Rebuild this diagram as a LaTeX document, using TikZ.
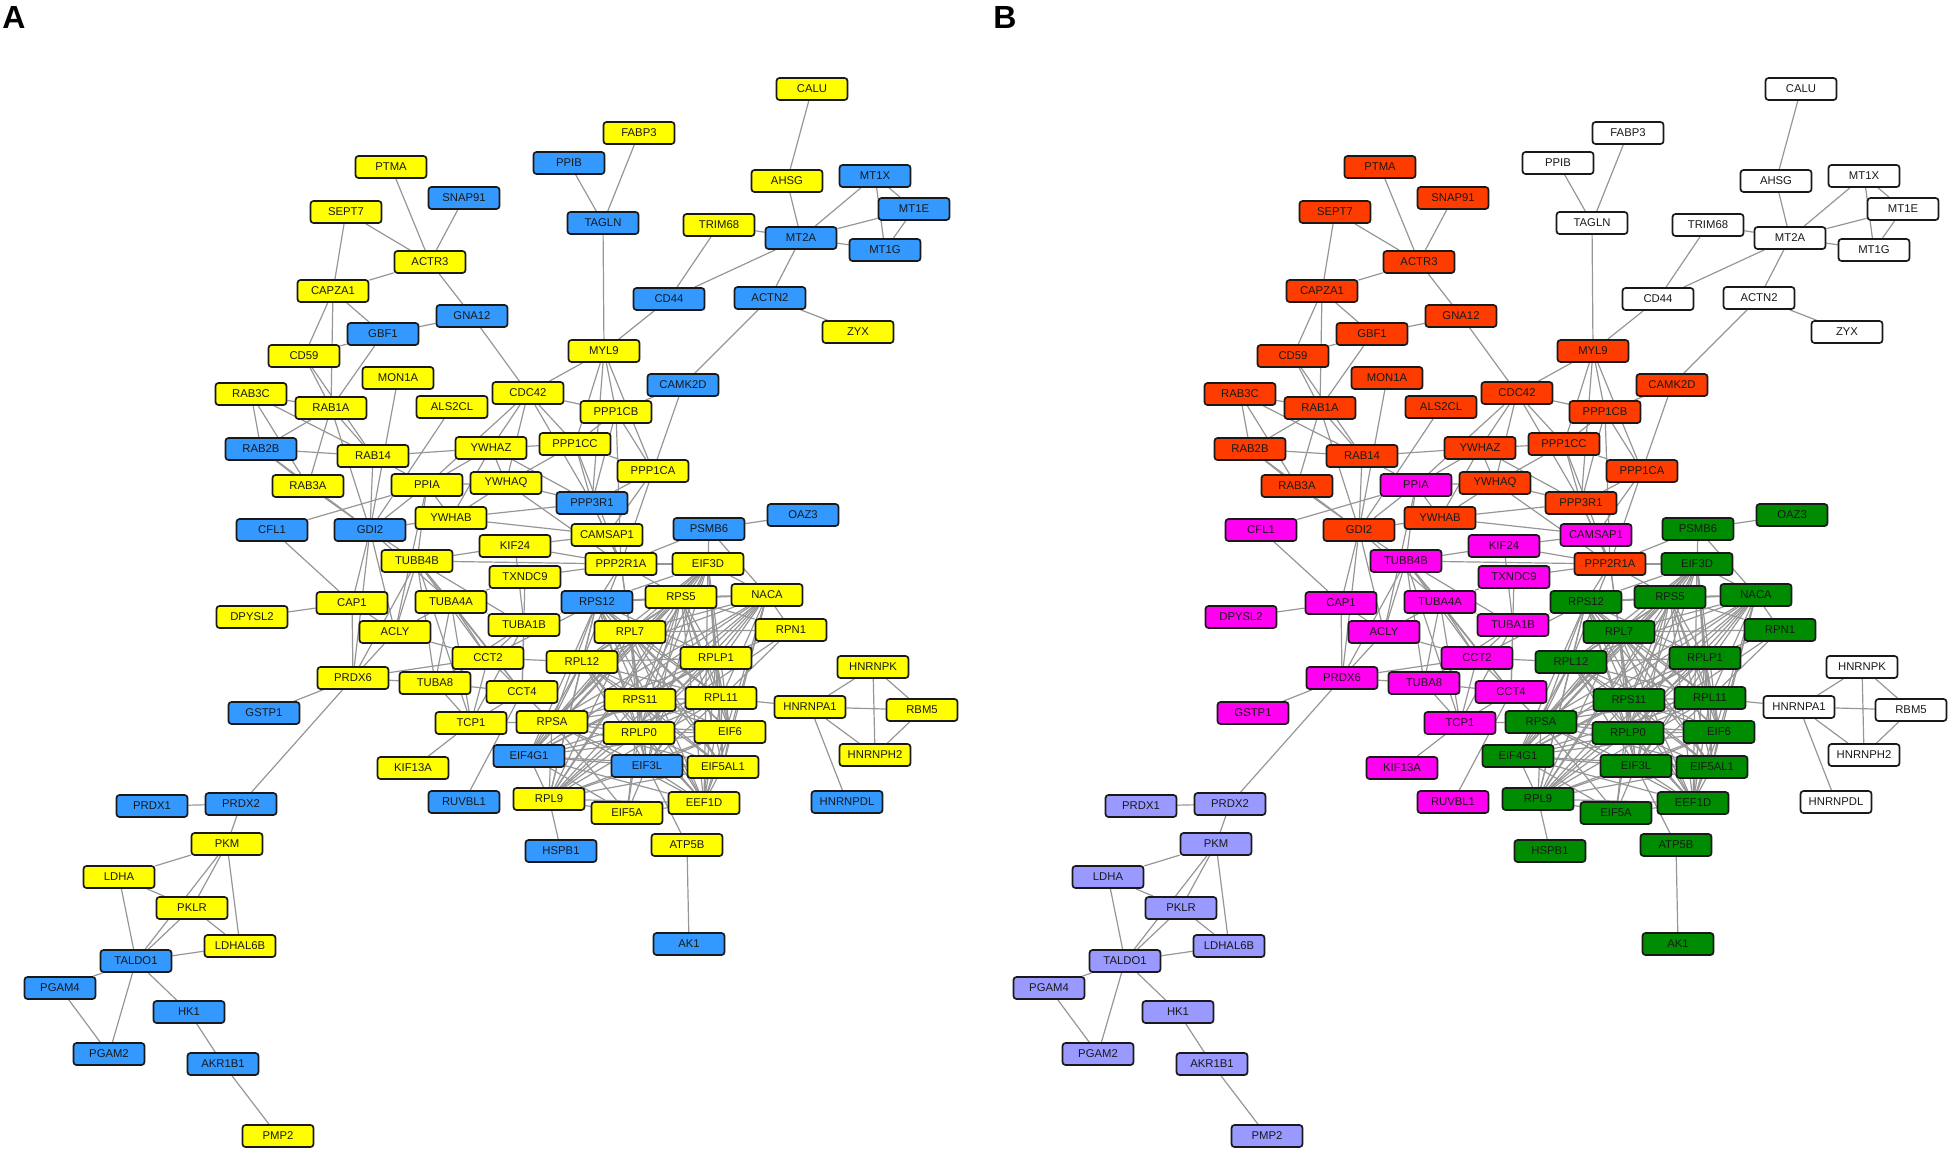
\documentclass[tikz,border=0pt]{standalone}
\usepackage{fontspec}
\setmainfont{Liberation Sans}
\usetikzlibrary{backgrounds}
\definecolor{yel}{RGB}{255,255,0}
\definecolor{blu}{RGB}{51,153,255}
\definecolor{org}{RGB}{255,60,0}
\definecolor{mag}{RGB}{255,0,240}
\definecolor{grn}{RGB}{0,140,0}
\definecolor{lav}{RGB}{153,153,255}
\definecolor{wht}{RGB}{255,255,255}
\definecolor{linkgray}{RGB}{150,150,150}
\def\ribo{RPS12,RPS5,NACA,RPL7,RPL12,RPLP1,RPS11,RPL11,RPSA,RPLP0,EIF6,EIF4G1,EIF3L,EIF5AL1,RPL9,EEF1D,EIF3D}

\begin{document}
\begin{tikzpicture}[x=1pt,y=-1pt,
gene/.style={rectangle, rounded corners=3pt, draw=black!90, line width=1.7pt,
  minimum width=71pt, minimum height=22pt, inner sep=0pt,
  font=\fontsize{11.3}{12}\selectfont, text=black!90},
link/.style={draw=linkgray, line width=1.2pt},
panel/.style={font=\bfseries\fontsize{32}{32}\selectfont, inner sep=0pt},
]
\useasboundingbox (0,0) rectangle (1950,1153);
\node[panel] (labA) at (14,17) {A};
\node[panel] (labB) at (1005,17) {B};
%genes: name/x/y/colour in A/colour in B
\foreach \g/\x/\y/\ca/\cb in {
CALU/812/89/yel/wht, FABP3/639/133/yel/wht, PPIB/569/163/blu/wht,
PTMA/391/167/yel/org, AHSG/787/181/yel/wht, MT1X/875/176/blu/wht,
SNAP91/464/198/blu/org, SEPT7/346/212/yel/org, MT1E/914/209/blu/wht,
TAGLN/603/223/blu/wht, TRIM68/719/225/yel/wht, MT2A/801/238/blu/wht,
MT1G/885/250/blu/wht, ACTR3/430/262/yel/org, CAPZA1/333/291/yel/org,
CD44/669/299/blu/wht, ACTN2/770/298/blu/wht, GNA12/472/316/blu/org,
GBF1/383/334/blu/org, ZYX/858/332/yel/wht, MYL9/604/351/yel/org,
CD59/304/356/yel/org, MON1A/398/378/yel/org, CAMK2D/683/385/blu/org,
RAB3C/251/394/yel/org, CDC42/528/393/yel/org, RAB1A/331/408/yel/org,
ALS2CL/452/407/yel/org, PPP1CB/616/412/yel/org, PPP1CC/575/444/yel/org,
YWHAZ/491/448/yel/org, RAB2B/261/449/blu/org, RAB14/373/456/yel/org,
PPP1CA/653/471/yel/org, YWHAQ/506/483/yel/org, PPIA/427/485/yel/mag,
RAB3A/308/486/yel/org, PPP3R1/592/503/blu/org, YWHAB/451/518/yel/org,
OAZ3/803/515/blu/grn, PSMB6/709/529/blu/grn, CFL1/272/530/blu/mag,
GDI2/370/530/blu/org, CAMSAP1/607/535/yel/mag, KIF24/515/546/yel/mag,
TUBB4B/417/561/yel/mag, PPP2R1A/621/564/yel/org, EIF3D/708/564/yel/grn,
TXNDC9/525/577/yel/mag, NACA/767/595/yel/grn, RPS5/681/597/yel/grn,
TUBA4A/451/602/yel/mag, RPS12/597/602/blu/grn, CAP1/352/603/yel/mag,
DPYSL2/252/617/yel/mag, TUBA1B/524/625/yel/mag, RPN1/791/630/yel/grn,
ACLY/395/632/yel/mag, RPL7/630/632/yel/grn, CCT2/488/658/yel/mag,
RPLP1/716/658/yel/grn, RPL12/582/662/yel/grn, HNRNPK/873/667/yel/wht,
PRDX6/353/678/yel/mag, TUBA8/435/683/yel/mag, CCT4/522/692/yel/mag,
RPL11/721/698/yel/grn, RPS11/640/700/yel/grn, HNRNPA1/810/707/yel/wht,
RBM5/922/710/yel/wht, GSTP1/264/713/blu/mag, RPSA/552/722/yel/grn,
TCP1/471/723/yel/mag, EIF6/730/732/yel/grn, RPLP0/639/733/yel/grn,
HNRNPH2/875/755/yel/wht, EIF4G1/529/756/blu/grn, EIF3L/647/766/blu/grn,
EIF5AL1/723/767/yel/grn, KIF13A/413/768/yel/mag, RPL9/549/799/yel/grn,
HNRNPDL/847/802/blu/wht, RUVBL1/464/802/blu/mag, EEF1D/704/803/yel/grn,
PRDX2/241/804/blu/lav, PRDX1/152/806/blu/lav, EIF5A/627/813/yel/grn,
PKM/227/844/yel/lav, ATP5B/687/845/yel/grn, HSPB1/561/851/blu/grn,
LDHA/119/877/yel/lav, PKLR/192/908/yel/lav, AK1/689/944/blu/grn,
LDHAL6B/240/946/yel/lav, TALDO1/136/961/blu/lav, PGAM4/60/988/blu/lav,
HK1/189/1012/blu/lav, PGAM2/109/1054/blu/lav, AKR1B1/223/1064/blu/lav,
PMP2/278/1136/yel/lav}{
\node[gene, fill=\ca] (a\g) at (\x,\y) {\g};
\node[gene, fill=\cb] (b\g) at (\x+989,\y) {\g};
}
%interactions, same in both panels
\begin{pgfonlayer}{background}
\foreach \p in {a,b}{
\foreach \u/\v in {
PPIB/TAGLN, FABP3/TAGLN, TAGLN/MYL9, CALU/AHSG, AHSG/MT2A, TRIM68/MT2A,
TRIM68/CD44, MT2A/MT1X, MT2A/MT1E, MT2A/MT1G, MT1X/MT1E, MT1X/MT1G,
MT1E/MT1G, MT2A/CD44, MT2A/ACTN2, ACTN2/ZYX, ACTN2/CAMK2D, CD44/MYL9,
PTMA/ACTR3, SNAP91/ACTR3, SEPT7/ACTR3, SEPT7/CAPZA1, CAPZA1/ACTR3,
ACTR3/GNA12, CAPZA1/GBF1, CAPZA1/CD59, CAPZA1/RAB1A, GBF1/GNA12,
GBF1/CD59, GBF1/RAB1A, GNA12/CDC42, CD59/RAB1A, CD59/RAB14, MON1A/GDI2,
ALS2CL/GDI2, RAB3C/RAB1A, RAB3C/RAB2B, RAB3C/RAB3A, RAB3C/RAB14,
RAB1A/RAB2B, RAB1A/RAB14, RAB1A/RAB3A, RAB1A/GDI2, RAB2B/RAB14,
RAB2B/RAB3A, RAB2B/GDI2, RAB14/GDI2, RAB3A/GDI2, RAB14/YWHAZ, RAB14/PPIA,
CDC42/MYL9, CDC42/PPP1CB, CDC42/PPP1CC, CDC42/YWHAZ, CDC42/YWHAQ,
CDC42/PPP3R1, CDC42/PPIA, MYL9/PPP1CB, MYL9/PPP1CC, MYL9/PPP1CA,
MYL9/PPP3R1, CAMK2D/PPP1CB, CAMK2D/PPP1CA, PPP1CB/PPP1CC, PPP1CB/PPP1CA,
PPP1CB/PPP3R1, PPP1CB/PPP2R1A, PPP1CC/PPP1CA, PPP1CC/PPP3R1, PPP1CC/YWHAZ,
PPP1CC/YWHAQ, PPP1CC/PPP2R1A, PPP1CA/PPP3R1, PPP1CA/CAMSAP1, PPP1CA/PPP2R1A,
YWHAZ/YWHAQ, YWHAZ/YWHAB, YWHAZ/PPIA, YWHAZ/PPP3R1, YWHAQ/YWHAB,
YWHAQ/PPP3R1, YWHAQ/PPIA, YWHAQ/PPP2R1A, YWHAB/PPP3R1, YWHAB/PPIA,
YWHAB/CAMSAP1, YWHAB/GDI2, PPP3R1/PPP2R1A, PPP3R1/CAMSAP1,
CAMSAP1/PPP2R1A, CAMSAP1/KIF24, PPIA/GDI2, PPIA/CFL1, PPIA/TUBB4B,
PPIA/ACLY, GDI2/PRDX6, GDI2/TUBB4B, GDI2/ACLY, GDI2/CAP1, GDI2/TUBA4A,
TUBB4B/TUBA4A, TUBB4B/TUBA1B, TUBB4B/TUBA8, TUBB4B/CCT2, TUBB4B/CCT4,
TUBB4B/TCP1, TUBB4B/KIF24, TUBB4B/PPP2R1A, TUBB4B/ACLY, TUBB4B/PRDX6,
TUBA4A/TUBA1B, TUBA4A/TUBA8, TUBA4A/CCT2, TUBA4A/CCT4, TUBA4A/TCP1,
TUBA4A/TXNDC9, TUBA4A/ACLY, TUBA1B/TUBA8, TUBA1B/CCT2, TUBA1B/CCT4,
TUBA1B/TCP1, TUBA1B/KIF24, TUBA1B/RPS12, TUBA8/CCT2, TUBA8/CCT4,
TUBA8/TCP1, TUBA8/PRDX6, CCT2/CCT4, CCT2/TCP1, CCT2/RPL12, CCT2/PRDX6,
CCT2/ACLY, CCT2/RPS12, CCT4/TCP1, CCT4/TXNDC9, CCT4/RPSA, CCT4/RUVBL1,
TCP1/KIF13A, TCP1/RPSA, ACLY/PRDX6, ACLY/CAP1, CAP1/PRDX6, CAP1/CFL1,
CAP1/DPYSL2, KIF24/PPP2R1A, TXNDC9/PPP2R1A, PRDX6/GSTP1, PRDX6/PRDX2,
PPP2R1A/RPS12, PPP2R1A/RPL7, PPP2R1A/RPS5, PPP2R1A/EIF3D, PPP2R1A/RPL12,
PPP2R1A/RPS11, PPP2R1A/PSMB6, PSMB6/OAZ3, PSMB6/NACA, PSMB6/EIF3D,
NACA/RPN1, RPN1/RPLP1, RPN1/RPL11, RPN1/RPS5, RPN1/RPL7, RPN1/RPLP0,
EIF5A/RPL9, EIF5A/EIF3L, EIF5A/EEF1D, EIF5A/RPSA, EIF5A/RPS11,
EIF5A/RPLP0, EIF5A/EIF4G1, HSPB1/RPL9, ATP5B/EIF3L, ATP5B/AK1,
HNRNPA1/RPL11, HNRNPK/HNRNPA1, HNRNPK/RBM5, HNRNPK/HNRNPH2,
HNRNPA1/RBM5, HNRNPA1/HNRNPH2, HNRNPA1/HNRNPDL, RBM5/HNRNPH2,
PRDX1/PRDX2, PRDX2/PKM, PKM/LDHA, PKM/PKLR, PKM/TALDO1, PKM/LDHAL6B,
LDHA/PKLR, LDHA/TALDO1, PKLR/TALDO1, PKLR/LDHAL6B, TALDO1/LDHAL6B,
TALDO1/PGAM4, TALDO1/PGAM2, TALDO1/HK1, PGAM4/PGAM2, HK1/AKR1B1,
AKR1B1/PMP2}
\draw[link] (\p\u) -- (\p\v);
%ribosomal core, all pairs
\foreach \u [count=\i] in \ribo {
\foreach \v [count=\j] in \ribo {
\ifnum\i<\j \draw[link] (\p\u) -- (\p\v); \fi
}}
}
\end{pgfonlayer}
\end{tikzpicture}
\end{document}
